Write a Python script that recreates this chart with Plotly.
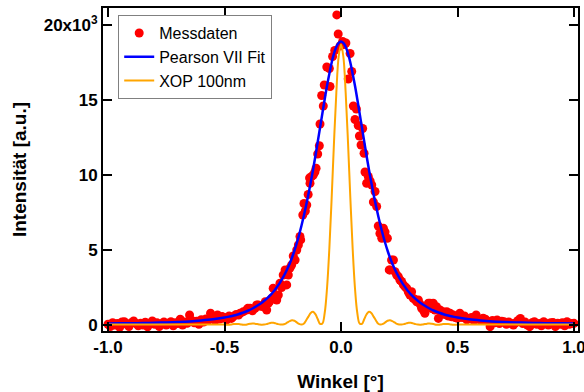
import plotly.graph_objects as go

# ---------------- measured data (angle in degrees, intensity in units of 10^3) ----------------
meas_angle = [
    -1.00, -0.99, -0.98, -0.97, -0.96, -0.95, -0.94, -0.93, -0.92, -0.91,
    -0.90, -0.89, -0.88, -0.87, -0.86, -0.85, -0.84, -0.83, -0.82, -0.81,
    -0.80, -0.79, -0.78, -0.77, -0.76, -0.75, -0.74, -0.73, -0.72, -0.71,
    -0.70, -0.69, -0.68, -0.67, -0.66, -0.65, -0.64, -0.63, -0.62, -0.61,
    -0.60, -0.59, -0.58, -0.57, -0.56, -0.55, -0.54, -0.53, -0.52, -0.51,
    -0.50, -0.49, -0.48, -0.47, -0.462, -0.45, -0.44, -0.433, -0.419, -0.405,
    -0.40, -0.39, -0.38, -0.369, -0.362, -0.355, -0.345, -0.333, -0.325, -0.319,
    -0.312, -0.305, -0.297, -0.291, -0.283, -0.276, -0.269, -0.262, -0.255, -0.248,
    -0.24, -0.233, -0.226, -0.219, -0.212, -0.205, -0.197, -0.19, -0.183, -0.176,
    -0.173, -0.164, -0.159, -0.153, -0.147, -0.141, -0.135, -0.133, -0.126, -0.119,
    -0.112, -0.107, -0.10, -0.093, -0.09, -0.083, -0.076, -0.072, -0.061, -0.05,
    -0.047, -0.036, -0.027, -0.018, -0.012, -0.004,
    0.007, 0.014, 0.021, 0.031, 0.039, 0.046, 0.053, 0.06, 0.066, 0.074,
    0.079, 0.086, 0.093, 0.099, 0.103, 0.11, 0.117, 0.125, 0.132, 0.139,
    0.146, 0.153, 0.16, 0.167, 0.175, 0.182, 0.189, 0.199, 0.207, 0.21,
    0.217, 0.225, 0.232, 0.239, 0.246, 0.253, 0.26, 0.268, 0.275, 0.282,
    0.289, 0.296, 0.303, 0.31, 0.318, 0.325, 0.332, 0.339, 0.346, 0.353,
    0.36, 0.367, 0.375, 0.382, 0.389, 0.396, 0.403, 0.41, 0.418, 0.425,
    0.432, 0.439, 0.446, 0.454, 0.461, 0.468, 0.475, 0.482, 0.49, 0.50,
    0.51, 0.52, 0.53, 0.54, 0.55, 0.56, 0.57, 0.58, 0.59, 0.60,
    0.61, 0.62, 0.63, 0.64, 0.65, 0.66, 0.67, 0.68, 0.69, 0.70,
    0.71, 0.72, 0.73, 0.74, 0.75, 0.76, 0.77, 0.78, 0.79, 0.80,
    0.81, 0.82, 0.83, 0.84, 0.85, 0.86, 0.87, 0.88, 0.89, 0.90,
    0.91, 0.92, 0.93, 0.94, 0.95, 0.96, 0.97, 0.98, 0.99, 1.00,
]
meas_intensity = [
    0.05, -0.1, 0.15, 0.0, 0.1, -0.15, 0.2, 0.22, 0.05, -0.1,
    0.15, 0.27, 0.1, -0.05, 0.12, 0.0, 0.18, -0.12, 0.1, 0.27,
    0.05, 0.15, -0.1, 0.08, 0.2, 0.0, 0.12, 0.22, -0.05, 0.15,
    0.1, 0.38, 0.0, 0.2, 0.12, 0.67, 0.3, 0.15, 0.25, 0.05,
    0.35, 0.2, 0.4, 0.3, 0.78, 0.45, 0.3, 0.67, 0.4, 0.56,
    0.5, 0.35, 0.6, 0.44, 0.56, 0.7, 0.67, 0.78, 0.89, 1.0,
    1.11, 1.11, 0.95, 1.11, 1.33, 1.33, 1.25, 1.22, 1.55, 1.0,
    1.45, 1.6, 1.78, 2.45, 1.9, 1.67, 2.0, 2.78, 2.5, 3.33,
    3.67, 2.67, 3.33, 3.8, 4.0, 4.6, 4.33, 5.0, 5.33, 5.9,
    5.67, 7.33, 8.1, 7.6, 8.0, 8.7, 9.8, 9.45, 9.9, 10.0,
    10.2, 10.45, 11.4, 11.95, 13.4, 15.3, 14.6, 16.0, 17.2, 17.1,
    15.9, 17.9, 18.3, 20.67, 19.4, 18.6,
    18.9, 18.7, 18.8, 16.4, 18.1, 16.9, 14.6, 13.7, 14.4, 13.3,
    12.6, 12.0, 13.1, 11.45, 10.2, 9.45, 9.9, 9.6, 9.33, 8.2,
    8.9, 7.9, 6.6, 6.1, 5.78, 6.45, 6.2, 5.78, 3.67, 3.67,
    4.33, 4.33, 3.55, 3.33, 3.22, 3.0, 2.9, 2.67, 2.55, 2.45,
    2.2, 2.0, 2.22, 1.78, 1.7, 1.55, 1.67, 1.4, 1.11, 1.0,
    0.78, 1.2, 1.45, 1.45, 1.1, 1.45, 1.0, 1.22, 0.44, 1.0,
    0.8, 0.89, 0.7, 0.89, 0.6, 0.78, 0.55, 0.67, 0.5, 0.45,
    0.78, 0.5, 0.6, 0.35, 0.44, 0.5, 0.3, 0.67, 0.4, 0.3,
    0.45, 0.38, 0.25, -0.11, 0.3, 0.15, 0.33, 0.1, 0.25, 0.22,
    0.05, 0.2, 0.1, 0.0, 0.15, 0.3, 0.44, 0.1, 0.2, 0.0,
    -0.11, 0.15, 0.22, 0.05, 0.1, -0.05, 0.22, 0.1, 0.0, 0.15,
    0.16, -0.1, 0.11, 0.05, 0.15, -0.05, 0.22, 0.05, 0.1, 0.11,
]

# ---------------- Pearson VII fit curve ----------------
fit_angle = [
    -1.00, -0.95, -0.90, -0.85, -0.80, -0.75, -0.70, -0.65, -0.60, -0.55,
    -0.50, -0.48, -0.46, -0.44, -0.42, -0.40, -0.38, -0.36, -0.34, -0.32,
    -0.30, -0.29, -0.28, -0.27, -0.26, -0.25, -0.24, -0.23, -0.22, -0.21,
    -0.20, -0.19, -0.18, -0.17, -0.16, -0.15, -0.14, -0.13, -0.12, -0.11,
    -0.10, -0.09, -0.08, -0.07, -0.06, -0.05, -0.04, -0.03, -0.02, -0.01,
    0.00,
    0.01, 0.02, 0.03, 0.04, 0.05, 0.06, 0.07, 0.08, 0.09, 0.10,
    0.11, 0.12, 0.13, 0.14, 0.15, 0.16, 0.17, 0.18, 0.19, 0.20,
    0.21, 0.22, 0.23, 0.24, 0.25, 0.26, 0.27, 0.28, 0.29, 0.30,
    0.32, 0.34, 0.36, 0.38, 0.40, 0.42, 0.44, 0.46, 0.48, 0.50,
    0.55, 0.60, 0.65, 0.70, 0.75, 0.80, 0.85, 0.90, 0.95, 1.00,
]
fit_intensity = [
    0.10, 0.11, 0.12, 0.13, 0.15, 0.17, 0.20, 0.24, 0.30, 0.38,
    0.50, 0.56, 0.63, 0.72, 0.83, 0.95, 1.10, 1.28, 1.49, 1.74,
    2.04, 2.22, 2.42, 2.64, 2.88, 3.14, 3.43, 3.75, 4.10, 4.50,
    4.95, 5.45, 6.00, 6.60, 7.25, 7.95, 8.70, 9.50, 10.35, 11.25,
    12.20, 13.15, 14.10, 15.05, 15.95, 16.75, 17.50, 18.10, 18.55, 18.80,
    18.90,
    18.80, 18.55, 18.10, 17.50, 16.75, 15.95, 15.05, 14.10, 13.15, 12.20,
    11.25, 10.35, 9.50, 8.70, 7.95, 7.25, 6.60, 6.00, 5.45, 4.95,
    4.50, 4.10, 3.75, 3.43, 3.14, 2.88, 2.64, 2.42, 2.22, 2.04,
    1.74, 1.49, 1.28, 1.10, 0.95, 0.83, 0.72, 0.63, 0.56, 0.50,
    0.38, 0.30, 0.24, 0.20, 0.17, 0.15, 0.13, 0.12, 0.11, 0.10,
]

# ---------------- XOP simulation (100 nm) ----------------
xop_angle = [
    -1.00, -0.90, -0.80, -0.70, -0.60, -0.55,
    -0.50, -0.49, -0.48, -0.47, -0.46, -0.45, -0.44, -0.43, -0.42, -0.41,
    -0.40, -0.39, -0.38, -0.37, -0.36, -0.35, -0.34, -0.33, -0.32, -0.31,
    -0.30, -0.29, -0.28, -0.27, -0.26, -0.25, -0.24, -0.23, -0.22, -0.21,
    -0.20, -0.19, -0.18, -0.17, -0.16, -0.15, -0.14, -0.13, -0.12, -0.11,
    -0.10, -0.09, -0.08, -0.07, -0.06, -0.05, -0.04, -0.03, -0.02, -0.01,
    0.00,
    0.01, 0.02, 0.03, 0.04, 0.05, 0.06, 0.07, 0.08, 0.09, 0.10,
    0.11, 0.12, 0.13, 0.14, 0.15, 0.16, 0.17, 0.18, 0.19, 0.20,
    0.21, 0.22, 0.23, 0.24, 0.25, 0.26, 0.27, 0.28, 0.29, 0.30,
    0.31, 0.32, 0.33, 0.34, 0.35, 0.36, 0.37, 0.38, 0.39, 0.40,
    0.41, 0.42, 0.43, 0.44, 0.45, 0.46, 0.47, 0.48, 0.49, 0.50,
    0.55, 0.60, 0.70, 0.80, 0.90, 1.00,
]
xop_intensity = [
    0.03, 0.03, 0.03, 0.03, 0.03, 0.03,
    0.03, 0.02, 0.02, 0.04, 0.06, 0.07, 0.06, 0.04, 0.02, 0.02,
    0.05, 0.08, 0.10, 0.09, 0.07, 0.04, 0.02, 0.03, 0.06, 0.11,
    0.15, 0.15, 0.11, 0.06, 0.03, 0.03, 0.07, 0.17, 0.26, 0.31,
    0.28, 0.18, 0.07, 0.03, 0.08, 0.30, 0.56, 0.80, 0.88, 0.72,
    0.40, 0.08, 0.10, 0.80, 2.45, 5.10, 8.50, 12.20, 15.50, 17.90,
    18.70,
    17.90, 15.50, 12.20, 8.50, 5.10, 2.45, 0.80, 0.10, 0.08, 0.40,
    0.72, 0.88, 0.80, 0.56, 0.30, 0.08, 0.03, 0.07, 0.18, 0.28,
    0.31, 0.26, 0.17, 0.07, 0.03, 0.03, 0.06, 0.11, 0.15, 0.15,
    0.11, 0.06, 0.03, 0.02, 0.04, 0.07, 0.09, 0.10, 0.08, 0.05,
    0.02, 0.02, 0.04, 0.06, 0.07, 0.06, 0.04, 0.02, 0.02, 0.03,
    0.03, 0.03, 0.03, 0.03, 0.03, 0.03,
]

x_tick_vals = [-1.0, -0.5, 0.0, 0.5, 1.0]
x_tick_text = ["-1.0", "-0.5", "0.0", "0.5", "1.0"]
y_tick_vals = [0, 5, 10, 15, 20]
y_tick_text = ["0", "5", "10", "15", "20x10<sup>3</sup>"]

FONT = "Liberation Sans"

fig = go.Figure()
fig.add_trace(go.Scatter(
    x=meas_angle, y=meas_intensity, mode="markers", name="Messdaten",
    marker=dict(color="#FF0000", size=9, line=dict(width=0)),
))
fig.add_trace(go.Scatter(
    x=fit_angle, y=fit_intensity, mode="lines", name="Pearson VII Fit",
    line=dict(color="#0000FF", width=2.5, shape="spline"),
))
fig.add_trace(go.Scatter(
    x=xop_angle, y=xop_intensity, mode="lines", name="XOP 100nm",
    line=dict(color="#FFA500", width=2, shape="spline"),
))

axis_common = dict(
    showline=True, linecolor="black", linewidth=2, mirror="ticks",
    ticks="inside", ticklen=9, tickwidth=2, tickcolor="black",
    showgrid=False, zeroline=False, automargin=False,
    ticklabeloverflow="allow",
    tickfont=dict(family=FONT, size=17, color="black", weight="bold"),
)

fig.update_xaxes(
    range=[-1.0215, 1.0172], tickvals=x_tick_vals, ticktext=x_tick_text,
    title=dict(text="Winkel [°]", standoff=18,
               font=dict(family=FONT, size=19, color="black", weight="bold")),
    **axis_common,
)
fig.update_yaxes(
    range=[-0.4, 21.13], tickvals=y_tick_vals, ticktext=y_tick_text,
    title=dict(text="Intensität [a.u.]", standoff=12,
               font=dict(family=FONT, size=19, color="black", weight="bold")),
    **axis_common,
)

fig.update_layout(
    width=584, height=392,
    margin=dict(l=103, r=6, t=8, b=61),
    paper_bgcolor="white", plot_bgcolor="white",
    showlegend=True,
    legend=dict(
        x=0.032, y=0.978, xanchor="left", yanchor="top",
        bgcolor="white", bordercolor="#808080", borderwidth=1,
        font=dict(family=FONT, size=16, color="black"),
        tracegroupgap=0, itemwidth=30,
    ),
)

fig.write_html("out.html")
